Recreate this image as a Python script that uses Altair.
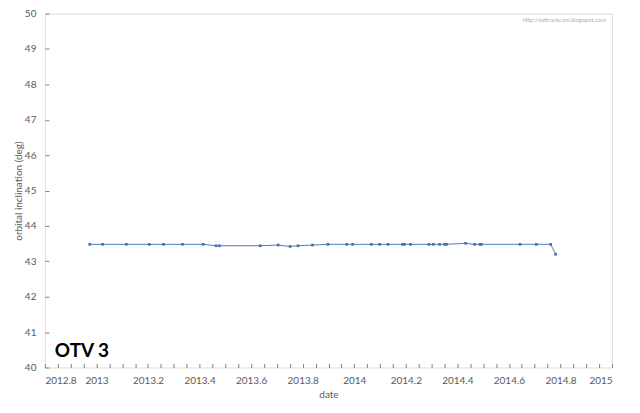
import altair as alt
import pandas as pd

# data
dates = [2012.974, 2013.024, 2013.116, 2013.205, 2013.260, 2013.334, 2013.414,
         2013.464, 2013.477, 2013.635, 2013.705, 2013.751, 2013.782, 2013.838,
         2013.898, 2013.971, 2013.994, 2014.066, 2014.098, 2014.131, 2014.187,
         2014.195, 2014.218, 2014.290, 2014.307, 2014.331, 2014.350, 2014.358,
         2014.432, 2014.467, 2014.487, 2014.493, 2014.643, 2014.706, 2014.762,
         2014.781]
incl = [43.48, 43.48, 43.48, 43.48, 43.48, 43.48, 43.48,
        43.44, 43.44, 43.44, 43.46, 43.42, 43.44, 43.46,
        43.48, 43.48, 43.48, 43.48, 43.48, 43.48, 43.48,
        43.48, 43.48, 43.48, 43.48, 43.48, 43.48, 43.48,
        43.51, 43.48, 43.48, 43.48, 43.48, 43.48, 43.48,
        43.20]

x_domain = [2012.8, 2015]
y_domain = [40, 50]

title_text = "OTV 3"
watermark = "http://sattrackcam.blogspot.com"

df = pd.DataFrame({"date": dates, "incl": incl})

FONT = "Lato"
GRAY = "#595959"

base = alt.Chart(df)

line = base.mark_line(
    color="#4a7ebb", strokeWidth=1,
    point=alt.OverlayMarkDef(shape="square", size=7, color="#3f6fb5", filled=True),
).encode(
    x=alt.X("date:Q", title="date",
            scale=alt.Scale(domain=x_domain, nice=False, zero=False),
            axis=alt.Axis(tickCount=44, format=".1~f",
                          labelExpr="abs(round(datum.value*5) - datum.value*5) < 0.001 ? datum.label : ''",
                          labelOverlap=False, grid=False, domain=False,
                          offset=-4, tickSize=4, tickColor="#808080",
                          labelPadding=8, labelFont=FONT, labelFontSize=10,
                          labelColor=GRAY, titleFont=FONT, titleFontSize=10,
                          titleFontWeight="normal", titleColor=GRAY,
                          titlePadding=4)),
    y=alt.Y("incl:Q", title="orbital inclination (deg)",
            scale=alt.Scale(domain=y_domain, nice=False, zero=False),
            axis=alt.Axis(tickCount=50, format="d",
                          labelExpr="abs(round(datum.value) - datum.value) < 0.001 ? datum.label : ''",
                          labelOverlap=False, grid=False, domain=False,
                          offset=-4, tickSize=4, tickColor="#808080",
                          labelPadding=9, labelFont=FONT, labelFontSize=10,
                          labelColor=GRAY, titleFont=FONT, titleFontSize=10,
                          titleFontWeight="normal", titleColor=GRAY,
                          titlePadding=1)),
)

label = alt.Chart(pd.DataFrame({"t": [title_text]})).mark_text(
    font=FONT, fontSize=19, fontWeight="bold", color="black",
    align="left", baseline="alphabetic",
).encode(x=alt.value(10), y=alt.value(344), text="t:N")

wm = alt.Chart(pd.DataFrame({"t": [watermark]})).mark_text(
    font=FONT, fontSize=6, color="#b0b0b0", align="right", baseline="middle",
).encode(x=alt.value(563), y=alt.value(6), text="t:N")

chart = alt.layer(line, label, wm).properties(
    width=569, height=355,
    autosize=alt.AutoSizeParams(type="none"),
    padding={"left": 37, "top": 5, "right": 20, "bottom": 40},
).configure_view(stroke="#808080", strokeWidth=1).configure(background="white")

chart.save("out.html", embed_options={"renderer": "svg", "actions": False})
